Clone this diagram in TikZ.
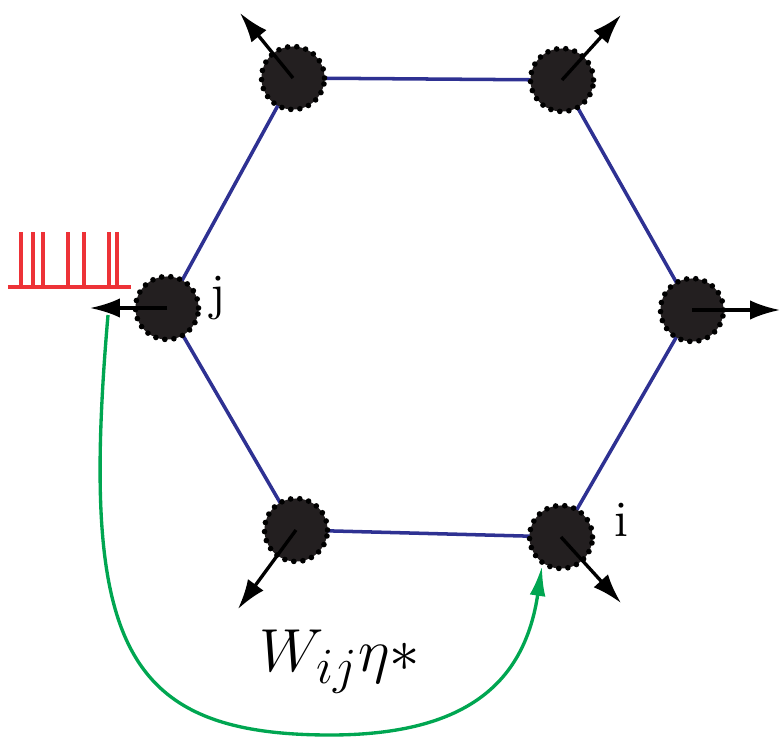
\documentclass[tikz,border=0pt]{standalone}
\usetikzlibrary{arrows.meta}

\definecolor{hexblue}{RGB}{46,49,146}
\definecolor{spikered}{RGB}{237,50,55}
\definecolor{wgreen}{RGB}{0,166,81}
\definecolor{cellfill}{RGB}{35,31,32}

\tikzset{
  neuron/.style={circle, minimum size=0.63cm, inner sep=0pt, fill=cellfill,
    draw=black, line width=1.6pt, dash pattern=on 0pt off 2.6pt, line cap=round},
  link/.style={hexblue, line width=1pt},
  outarrow/.style={-{Latex[length=8.5pt,width=5.5pt]}, line width=0.95pt},
  spike/.style={spikered, line width=0.9pt},
  lbl/.style={font=\fontsize{14.5}{17}\selectfont, inner sep=0pt},
}

\begin{document}
\begin{tikzpicture}[x=0.01cm, y=-0.01cm]
  \useasboundingbox (0,0) rectangle (781,739);

  % cells of the ring
  \coordinate (p1) at (293,78);
  \coordinate (p2) at (562,80);
  \coordinate (p3) at (692,310);
  \coordinate (p4) at (561,537);
  \coordinate (p5) at (296,530);
  \coordinate (p6) at (167,308);

  \draw[link] (p1) -- (p2) -- (p3) -- (p4) -- (p5) -- (p6) -- cycle;

  \node[neuron] (n1) at (p1) {};
  \node[neuron] (n2) at (p2) {};
  \node[neuron] (n3) at (p3) {};
  \node[neuron] (n4) at (p4) {};
  \node[neuron] (n5) at (p5) {};
  \node[neuron] (n6) at (p6) {};

  % outward directions
  \coordinate (a1) at (240,13);
  \coordinate (a2) at (621,15);
  \coordinate (a3) at (780,310);
  \coordinate (a4) at (621,603);
  \coordinate (a5) at (238,609);
  \coordinate (a6) at (90,308);

  \foreach \k in {1,...,6}
    \draw[outarrow] (n\k.center) -- (a\k);

  \node[lbl] (lj) at (218,298) {j};
  \node[lbl] (li) at (621,520) {i};

  % spike train
  \draw[spike] (8,287) -- (131,287);
  \foreach \s in {21,33,43,68,84,109,117}
    \draw[spike] (\s,287) -- (\s,232);

  % coupling
  \coordinate (g0) at (108,315);
  \coordinate (gb) at (330,735);
  \coordinate (gi) at (542,566);
  \draw[wgreen, line width=0.95pt, -{Latex[length=8.5pt,width=4.5pt]}]
    (g0) .. controls (80,640) and (120,735) .. (gb)
         .. controls (470,735) and (525,680) .. (gi);

  \node[font=\fontsize{19}{22}\selectfont] (w) at (340,662) {$W_{ij}\eta{*}$};
\end{tikzpicture}
\end{document}
